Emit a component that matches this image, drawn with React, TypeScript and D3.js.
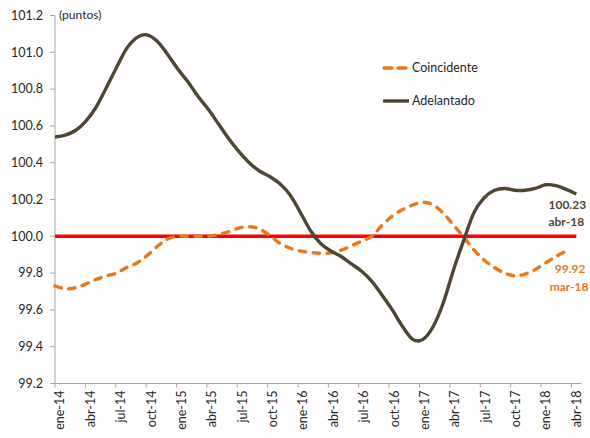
import React from "react";
import * as d3 from "d3";

const months: string[] = [
  "ene-14","feb-14","mar-14","abr-14","may-14","jun-14","jul-14","ago-14","sep-14","oct-14","nov-14","dic-14",
  "ene-15","feb-15","mar-15","abr-15","may-15","jun-15","jul-15","ago-15","sep-15","oct-15","nov-15","dic-15",
  "ene-16","feb-16","mar-16","abr-16","may-16","jun-16","jul-16","ago-16","sep-16","oct-16","nov-16","dic-16",
  "ene-17","feb-17","mar-17","abr-17","may-17","jun-17","jul-17","ago-17","sep-17","oct-17","nov-17","dic-17",
  "ene-18","feb-18","mar-18","abr-18",
];

const adelantado: number[] = [
  100.54, 100.55, 100.575, 100.625, 100.70, 100.805, 100.915, 101.02, 101.08, 101.095, 101.06, 100.99,
  100.91, 100.84, 100.76, 100.69, 100.61, 100.53, 100.46, 100.40, 100.355, 100.325, 100.285, 100.225,
  100.13, 100.03, 99.96, 99.92, 99.89, 99.85, 99.81, 99.755, 99.68, 99.60, 99.51, 99.44,
  99.44, 99.51, 99.64, 99.82, 99.98, 100.13, 100.21, 100.25, 100.26, 100.25, 100.25, 100.26,
  100.28, 100.275, 100.255, 100.23,
];

const coincidente: (number | null)[] = [
  99.73, 99.715, 99.72, 99.74, 99.765, 99.785, 99.80, 99.83, 99.855, 99.895, 99.945, 99.985,
  100.0, 100.0, 100.0, 100.0, 100.01, 100.025, 100.045, 100.052, 100.04, 100.005, 99.962, 99.935,
  99.92, 99.912, 99.908, 99.91, 99.925, 99.948, 99.975, 100.0, 100.06, 100.11, 100.145, 100.17,
  100.185, 100.17, 100.125, 100.06, 99.995, 99.925, 99.87, 99.83, 99.80, 99.785, 99.795, 99.82,
  99.855, 99.89, 99.92, null,
];

const yTicks: number[] = [99.2, 99.4, 99.6, 99.8, 100.0, 100.2, 100.4, 100.6, 100.8, 101.0, 101.2];
const referenceValue = 100.0;
const unitLabel = "(puntos)";
const seriesNames = ["Coincidente", "Adelantado"];
const lastAdelantado = { value: "100.23", month: "abr-18" };
const lastCoincidente = { value: "99.92", month: "mar-18" };

const ORANGE = "#E8771E";
const DARK = "#4E4631";
const RED = "#FF0000";
const AXIS = "#A6A6A6";
const TEXT = "#262626";
const FONT = "Lato, 'Open Sans', sans-serif";

export default function App() {
  const W = 590, H = 438;
  const y = d3.scaleLinear().domain([99.2, 101.2]).range([383.5, 15.5]);
  const xAxis = d3.scaleLinear().domain([0, months.length]).range([55, 581.5]);
  const xData = d3.scalePoint<string>().domain(months).range([55, 576.3]);

  const line = d3
    .line<number | null>()
    .defined((d) => d != null)
    .x((_, i) => xData(months[i]) as number)
    .y((d) => y(d as number))
    .curve(d3.curveCatmullRom.alpha(0));

  const tickIdx = months.map((_, i) => i).filter((i) => i % 3 === 0);
  const lastA = adelantado.length - 1;
  let lastC = coincidente.length - 1;
  while (lastC > 0 && coincidente[lastC] == null) lastC--;

  const xa = xData(months[lastA]) as number;
  const xc = xData(months[lastC]) as number;

  return (
    <svg
      width={W}
      height={H}
      style={{ position: "absolute", left: 0, top: 0, background: "#fff" }}
      fontFamily={FONT}
    >
      {/* y axis */}
      <line x1={55} x2={55} y1={y(101.2)} y2={y(99.2)} stroke={AXIS} strokeWidth={1} />
      {yTicks.map((t) => (
        <g key={t}>
          <line x1={50} x2={55} y1={y(t)} y2={y(t)} stroke={AXIS} strokeWidth={1} />
          <text x={43} y={y(t)} dy="0.35em" textAnchor="end" fontSize={12.5} fill={TEXT}>
            {d3.format(".1f")(t)}
          </text>
        </g>
      ))}
      <text x={59} y={19} fontSize={12} fill={TEXT}>{unitLabel}</text>

      {/* x axis */}
      <line x1={xAxis(0)} x2={xAxis(months.length)} y1={y(99.2)} y2={y(99.2)} stroke={AXIS} strokeWidth={1} />
      {tickIdx.map((i) => (
        <g key={i}>
          <line x1={xAxis(i)} x2={xAxis(i)} y1={y(99.2)} y2={y(99.2) + 4} stroke={AXIS} strokeWidth={1} />
          <text
            transform={`translate(${xAxis(i + 0.5)},${y(99.2) + 7}) rotate(-90)`}
            dy="0.35em"
            textAnchor="end"
            fontSize={12.5}
            fill={TEXT}
          >
            {months[i]}
          </text>
        </g>
      ))}

      {/* reference line */}
      <line
        x1={xData(months[0])}
        x2={xa}
        y1={y(referenceValue)}
        y2={y(referenceValue)}
        stroke={RED}
        strokeWidth={3.6}
      />

      {/* series */}
      <path
        d={line(coincidente) || ""}
        fill="none"
        stroke={ORANGE}
        strokeWidth={3.4}
        strokeDasharray="6.5,7.5"
        strokeLinecap="round"
      />
      <path d={line(adelantado) || ""} fill="none" stroke={DARK} strokeWidth={3.4} strokeLinejoin="round" />

      {/* legend */}
      <line x1={384} x2={408} y1={68} y2={68} stroke={ORANGE} strokeWidth={3.4} strokeDasharray="8,6" strokeLinecap="round" />
      <text x={412} y={68} dy="0.35em" fontSize={12.5} fill={TEXT}>{seriesNames[0]}</text>
      <line x1={383} x2={409} y1={101} y2={101} stroke={DARK} strokeWidth={3.4} />
      <text x={412} y={101} dy="0.35em" fontSize={12.5} fill={TEXT}>{seriesNames[1]}</text>

      {/* end labels */}
      <text x={xa - 9} y={y(adelantado[lastA]) + 15} textAnchor="middle" fontSize={12} fontWeight="bold" fill={DARK}>
        {lastAdelantado.value}
      </text>
      <text x={xa - 10} y={y(adelantado[lastA]) + 32} textAnchor="middle" fontSize={12} fontWeight="bold" fill={DARK}>
        {lastAdelantado.month}
      </text>
      <text x={xc + 4} y={y(coincidente[lastC] as number) + 22} textAnchor="middle" fontSize={12} fontWeight="bold" fill={ORANGE}>
        {lastCoincidente.value}
      </text>
      <text x={xc + 3} y={y(coincidente[lastC] as number) + 40} textAnchor="middle" fontSize={12} fontWeight="bold" fill={ORANGE}>
        {lastCoincidente.month}
      </text>
    </svg>
  );
}
